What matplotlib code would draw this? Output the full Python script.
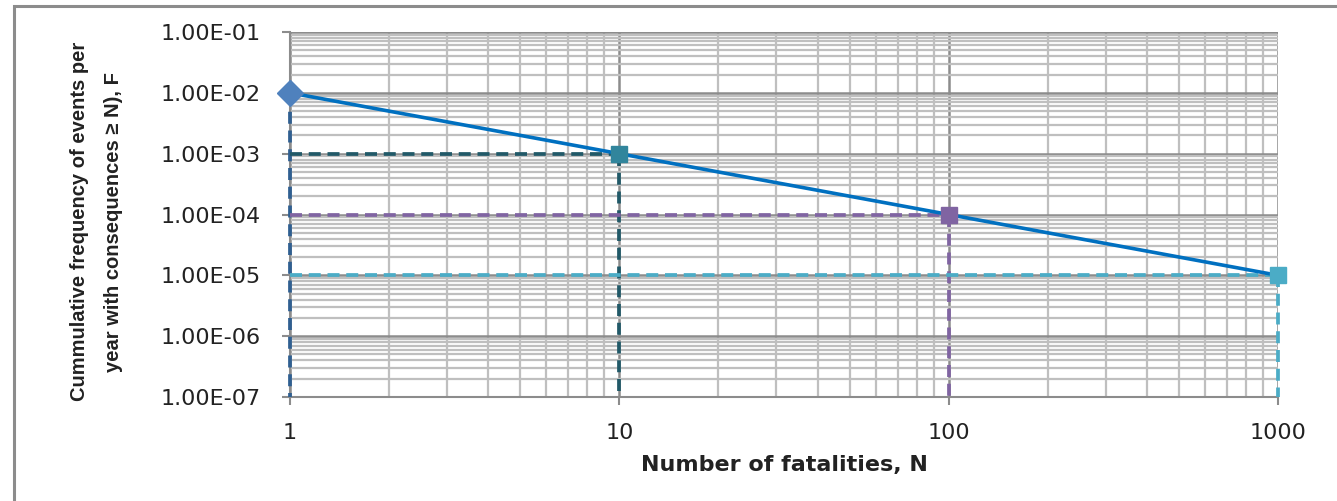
import numpy as np
import matplotlib.pyplot as plt
from matplotlib.patches import Rectangle
from matplotlib.ticker import LogLocator, FixedLocator, FuncFormatter, NullFormatter

# F-N criterion line and its reference points
n_line = [1, 1000]
f_line = [1e-2, 1e-5]

n_points = [1, 10, 100, 1000]
f_points = [1e-2, 1e-3, 1e-4, 1e-5]
point_markers = ["D", "s", "s", "s"]
point_colors = ["#4F81BD", "#31859C", "#8064A2", "#4BACC6"]
guide_colors = ["#2F5F91", "#215968", "#8064A2", "#4BACC6"]

y_ticks = [1e-7, 1e-6, 1e-5, 1e-4, 1e-3, 1e-2, 1e-1]
x_ticks = [1, 10, 100, 1000]

fig = plt.figure(figsize=(13.37, 5.01), dpi=100)
ax = fig.add_axes([290 / 1337, 1 - 397 / 501, 988 / 1337, 365 / 501])

ax.set_xscale("log")
ax.set_yscale("log")
ax.set_xlim(1, 1000)
ax.set_ylim(1e-7, 1e-1)

# guide lines from each point back to the axes
y_min = 1e-7
dash = (0, (3.2, 1.8))
for n, f, c in zip(n_points, f_points, guide_colors):
    ax.plot([1, n], [f, f], ls=dash, color=c, lw=2.7, zorder=3, clip_on=False)
    ax.plot([n, n], [f, y_min], ls=dash, color=c, lw=2.7, zorder=3, clip_on=False)

ax.plot(n_line, f_line, color="#0070C0", lw=2.6, zorder=4)
for n, f, m, c in zip(n_points, f_points, point_markers, point_colors):
    ax.plot(n, f, marker=m, color=c, ms=13 if m == "D" else 11,
            mec=c, zorder=5, clip_on=False, ls="none")

ax.xaxis.set_major_locator(FixedLocator(x_ticks))
ax.yaxis.set_major_locator(FixedLocator(y_ticks))
ax.xaxis.set_minor_locator(LogLocator(base=10, subs=np.arange(2, 10)))
ax.yaxis.set_minor_locator(LogLocator(base=10, subs=np.arange(2, 10)))
ax.xaxis.set_minor_formatter(NullFormatter())
ax.yaxis.set_minor_formatter(NullFormatter())
ax.xaxis.set_major_formatter(FuncFormatter(lambda v, _: f"{v:.0f}"))
ax.yaxis.set_major_formatter(FuncFormatter(lambda v, _: f"{v:.2E}"))

ax.grid(True, which="major", color="#8C8C8C", lw=1.8)
ax.grid(True, which="minor", color="#BFBFBF", lw=1.6)
ax.set_axisbelow(True)

for side in ("top", "right"):
    ax.spines[side].set_visible(False)
for side in ("left", "bottom"):
    ax.spines[side].set_color("#8C8C8C")
    ax.spines[side].set_linewidth(1.5)

ax.tick_params(which="minor", length=0)
ax.tick_params(which="major", length=6, width=1.5, color="#8C8C8C",
               labelsize=16, labelcolor="#222222")
ax.tick_params(axis="x", pad=13)
ax.tick_params(axis="y", pad=15)
for lab in ax.get_xticklabels() + ax.get_yticklabels():
    lab.set_family("DejaVu Sans")

ax.set_xlabel("Number of fatalities, N", fontsize=16, fontweight="bold",
              family="DejaVu Sans", labelpad=8, color="#222222")
ax.set_ylabel("Cummulative frequency of events per\nyear with consequences \u2265 N), F",
              fontsize=14.5, fontweight="bold", color="#222222",
              family=["Liberation Sans", "DejaVu Sans"], linespacing=2.0)
ax.yaxis.set_label_coords((123 - 290) / 988, 0.48)

# chart area border
fig.patches.append(Rectangle((14 / 1337, -0.1), 1.2, 1 - 6 / 501 + 0.1,
                             transform=fig.transFigure, fill=False,
                             ec="#8C8C8C", lw=2.2))

fig.savefig("out.png", dpi=100)
